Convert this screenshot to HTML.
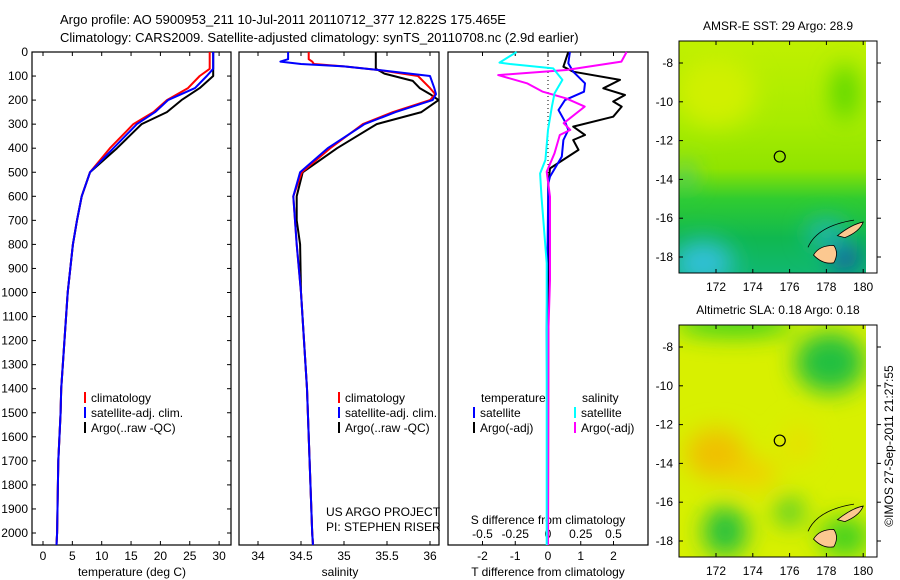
<!DOCTYPE html>
<html><head><meta charset="utf-8"><style>
body{margin:0;background:#fff;}
svg{display:block;font-family:"Liberation Sans",sans-serif;}
</style></head><body>
<svg id="fig" width="900" height="580" viewBox="0 0 900 580">
<defs>
<filter id="blur" x="-50%" y="-50%" width="200%" height="200%"><feGaussianBlur stdDeviation="12"/></filter>
<clipPath id="clipTop"><rect x="679" y="41" width="187" height="232"/></clipPath>
<clipPath id="clipBot"><rect x="679" y="325" width="187" height="232"/></clipPath>
<linearGradient id="sstGrad" x1="0" y1="0" x2="0" y2="1">
<stop offset="0" stop-color="#c0f000"/><stop offset="0.35" stop-color="#a8ec00"/><stop offset="0.55" stop-color="#90e400"/><stop offset="0.68" stop-color="#30cc30"/><stop offset="0.85" stop-color="#10b850"/><stop offset="1" stop-color="#10b870"/></linearGradient>
</defs>
<text x="60" y="24" font-size="13">Argo profile: AO 5900953_211 10-Jul-2011 20110712_377 12.822S 175.465E</text>
<text x="60" y="42" font-size="13">Climatology: CARS2009. Satellite-adjusted climatology: synTS_20110708.nc (2.9d earlier)</text>
<g id="plots"></g>
<g id="maps"></g>
<text transform="translate(893,446) rotate(-90)" font-size="12" text-anchor="middle">©IMOS 27-Sep-2011 21:27:55</text>
</svg>
<script>
// ---- profile data ----
const depthT = [0,70,100,150,200,250,300,400,500,600,700,800,1000,1400,1500,1700,2000,2050];
const tempClim = [28.4,28.4,26.7,24.7,21.1,18.8,15.4,11.4,8.0,6.6,5.8,5.1,4.2,3.1,3.0,2.6,2.4,2.3];
const tempSat  = [29.0,29.0,27.9,25.9,21.3,19.1,16.0,12.0,8.0,6.6,5.8,5.1,4.2,3.1,3.0,2.6,2.4,2.3];
const tempArgo = [29.0,29.0,29.0,26.7,23.6,21.1,16.8,12.6,8.0,6.6,5.8,5.1,4.2,3.1,3.0,2.6,2.4,2.3];
const depthS = [0,30,40,50,60,75,100,150,175,200,250,300,400,500,600,700,800,1000,1400,1700,2000,2050];
const salClim = [34.59,34.59,34.63,34.65,35.0,35.4,35.86,36.0,36.06,36.0,35.57,35.22,34.84,34.51,34.41,34.43,34.45,34.5,34.57,34.6,34.63,34.64];
const salSat  = [34.35,34.35,34.26,34.5,35.0,35.4,36.0,36.05,36.07,36.03,35.6,35.24,34.81,34.49,34.41,34.43,34.45,34.5,34.57,34.6,34.63,34.64];
const depthSA = [0,70,90,120,150,175,200,250,300,400,500,600,700,800,1000,1400,1700,2000,2050];
const salArgo = [35.37,35.37,35.47,35.8,35.88,36.0,36.1,35.9,35.38,34.92,34.52,34.45,34.45,34.49,34.5,34.57,34.6,34.63,34.64];
// difference profiles
const dTArgoDepth = [0,61,82,116,151,179,206,227,269,310,345,366,407,484,546,1156,2050];
const dTArgo = [0.62,0.47,0.77,2.2,1.69,2.35,1.99,2.25,1.99,0.77,1.13,0.77,0.93,0.06,0.01,0.01,0.0];
const dTSatDepth = [0,47,82,130,165,200,241,290,324,366,435,518,546,1156,2050];
const dTSat = [0.67,0.62,0.77,1.13,1.1,0.52,0.32,0.52,0.62,0.47,0.42,0.06,0.01,-0.04,0.0];
const dSArgoDepth = [0,40,75,96,130,165,193,227,296,324,345,421,498,602,948,1156,2050];
const dSArgo = [0.60,0.56,0.14,-0.38,-0.16,-0.04,0.14,0.28,0.12,0.17,0.09,0.05,-0.01,0.015,0.015,0.003,0.0];
const dSSatDepth = [0,44,50,68,116,172,227,324,449,505,602,878,1156,2050];
const dSSat = [-0.24,-0.37,-0.29,0.04,0.11,0.05,0.03,0.0,-0.02,-0.06,-0.05,-0.01,-0.01,-0.01];
// ticks
const depthTicks = [0,100,200,300,400,500,600,700,800,900,1000,1100,1200,1300,1400,1500,1600,1700,1800,1900,2000];
const tempTicks = [0,5,10,15,20,25,30];
const salTicks = [34,34.5,35,35.5,36];
const tdTicks = [-2,-1,0,1,2];
const sdTicks = [-0.5,-0.25,0,0.25,0.5];
const sdTickLabels = ["-0.5","-0.25","0","0.25","0.5"];
// map data
const lonTicks = [172,174,176,178,180];
const latTicks = [-8,-10,-12,-14,-16,-18];
const argoLon = 175.465, argoLat = -12.822;

const NS = "http://www.w3.org/2000/svg";
const plots = document.getElementById('plots');
const maps = document.getElementById('maps');
function mk(tag, attrs, parent){const e=document.createElementNS(NS,tag);for(const k in attrs)e.setAttribute(k,attrs[k]);(parent||plots).appendChild(e);return e;}

const TOP=52, BOT=545;
const yD = d => TOP + d*0.2405;
const panels = [
 {l:32,r:231,x:v=>43+(v-0)*5.87},
 {l:239,r:439,x:v=>258+(v-34)*86},
 {l:448,r:648,x:v=>548+v*32.75}
];
const xT = panels[0].x, xS = panels[1].x, xTD = panels[2].x, xSD = v=>548+v*131;

panels.forEach((p,i)=>{
 const r=mk('rect',{x:p.l,y:TOP,width:p.r-p.l,height:BOT-TOP,fill:'none',stroke:'#000','stroke-width':1.2});
 
 
});
depthTicks.forEach(d=>{
 const y=yD(d);
 mk('line',{x1:32,x2:36,y1:y,y2:y,stroke:'#000'});
 mk('line',{x1:227,x2:231,y1:y,y2:y,stroke:'#000'});
 const t=mk('text',{x:28,y:y+4,'font-size':12,'text-anchor':'end'});
 t.textContent=d;
 
 
});
function xticks(vals,labels,fx,y0,name){
 vals.forEach((v,i)=>{
  const x=fx(v);
  mk('line',{x1:x,x2:x,y1:BOT,y2:BOT-4,stroke:'#000'});
  mk('line',{x1:x,x2:x,y1:TOP,y2:TOP+4,stroke:'#000'});
  const t=mk('text',{x:x,y:y0,'font-size':12,'text-anchor':'middle'});
  t.textContent=labels[i];
  
  
 });
}
xticks(tempTicks,tempTicks.map(String),xT,560,'temperature-tick-label');
xticks(salTicks,salTicks.map(String),xS,560,'salinity-tick-label');
tdTicks.forEach(v=>{const x=xTD(v);mk('line',{x1:x,x2:x,y1:BOT,y2:BOT-4,stroke:'#000'});
 const t=mk('text',{x:x,y:560,'font-size':12,'text-anchor':'middle'});t.textContent=v;
 
 });
sdTicks.forEach((v,i)=>{const x=xSD(v);mk('line',{x1:x,x2:x,y1:TOP,y2:TOP+4,stroke:'#000'});
 const t=mk('text',{x:x,y:538,'font-size':12,'text-anchor':'middle'});t.textContent=sdTickLabels[i];
 
 });
function label(x,y,s,name,anchor){const t=mk('text',{x:x,y:y,'font-size':12,'text-anchor':anchor||'middle'});t.textContent=s;
 
 return t;}
label(132,576,'temperature (deg C)','x-axis-title-temperature');
label(340,576,'salinity','x-axis-title-salinity');
label(548,576,'T difference from climatology','x-axis-title-tdiff');
label(548,524,'S difference from climatology','x-axis-title-sdiff');
label(326,516,'US ARGO PROJECT','project-label','start');
label(326,531,'PI: STEPHEN RISER','pi-label','start');
mk('line',{x1:548,x2:548,y1:TOP,y2:300,stroke:'#000','stroke-dasharray':'1,3'});

function series(ds,vs,fx,color,name,w){
 const pts=ds.map((d,i)=>fx(vs[i]).toFixed(1)+','+yD(d).toFixed(1)).join(' ');
 const p=mk('polyline',{points:pts,fill:'none',stroke:color,'stroke-width':w||2,'stroke-linejoin':'round'});
 
 
}
series(depthT,tempArgo,xT,'#000','temp-argo-line');
series(depthT,tempClim,xT,'#f00','temp-climatology-line');
series(depthT,tempSat,xT,'#00f','temp-satellite-line');
series(depthSA,salArgo,xS,'#000','sal-argo-line');
series(depthS,salClim,xS,'#f00','sal-climatology-line');
series(depthS,salSat,xS,'#00f','sal-satellite-line');
series(dTArgoDepth,dTArgo,xTD,'#000','tdiff-argo-line');
series(dTSatDepth,dTSat,xTD,'#00f','tdiff-satellite-line');
series(dSArgoDepth,dSArgo,xSD,'#f0f','sdiff-argo-line');
series(dSSatDepth,dSSat,xSD,'#0ff','sdiff-satellite-line');

function legend(x,y,color,txt,name){
 mk('line',{x1:x,x2:x,y1:y-10,y2:y+1,stroke:color,'stroke-width':2});
 const t=mk('text',{x:x+6,y:y,'font-size':12});t.textContent=txt;
 
 
}
legend(85,402,'#f00','climatology','legend-climatology-temp');
legend(85,417,'#00f','satellite-adj. clim.','legend-satellite-temp');
legend(85,432,'#000','Argo(..raw -QC)','legend-argo-temp');
legend(339,402,'#f00','climatology','legend-climatology-sal');
legend(339,417,'#00f','satellite-adj. clim.','legend-satellite-sal');
legend(339,432,'#000','Argo(..raw -QC)','legend-argo-sal');
label(481,402,'temperature','legend-header-temperature','start');
label(582,402,'salinity','legend-header-salinity','start');
legend(474,417,'#00f','satellite','legend-tdiff-satellite');
legend(474,432,'#000','Argo(-adj)','legend-tdiff-argo');
legend(575,417,'#0ff','satellite','legend-sdiff-satellite');
legend(575,432,'#f0f','Argo(-adj)','legend-sdiff-argo');

// ---- maps ----
function mapPanel(top, lat8y, titleTxt, isSST, name){
 const g=document.createElementNS(NS,'g');maps.appendChild(g);
 
 
 const lx = lon => 716 + (lon-172)*18.4;
 const ly = lat => lat8y + (-8-lat)*19.4;
 const c=document.createElementNS(NS,'g');g.appendChild(c);
 c.setAttribute('clip-path', isSST?'url(#clipTop)':'url(#clipBot)');
 if(isSST){
  mk('rect',{x:679,y:top,width:187,height:232,fill:'url(#sstGrad)'},c);
  const bl=mk('g',{filter:'url(#blur)'},c);
  mk('ellipse',{cx:lx(172),cy:ly(-9.5),rx:40,ry:35,fill:'#d0f000'},bl);
  mk('ellipse',{cx:lx(171.3),cy:ly(-18.3),rx:30,ry:22,fill:'#30c0d8'},bl);
  mk('ellipse',{cx:lx(170.3),cy:ly(-13.8),rx:8,ry:12,fill:'#30c0a0'},bl);
  mk('ellipse',{cx:lx(179),cy:ly(-18),rx:14,ry:12,fill:'#1030c0'},bl);
  mk('ellipse',{cx:lx(178),cy:ly(-16.8),rx:20,ry:14,fill:'#20b8b0'},bl);
  mk('ellipse',{cx:lx(179),cy:ly(-9.5),rx:12,ry:28,fill:'#50d400'},bl);
 } else {
  mk('rect',{x:679,y:top,width:187,height:232,fill:'#d8f000'},c);
  const bl=mk('g',{filter:'url(#blur)'},c);
  mk('ellipse',{cx:lx(172),cy:ly(-13.5),rx:30,ry:25,fill:'#f0c000'},bl);
  mk('ellipse',{cx:lx(174),cy:ly(-14.5),rx:25,ry:15,fill:'#f0d000'},bl);
  mk('ellipse',{cx:lx(178.2),cy:ly(-8.8),rx:35,ry:30,fill:'#20c040'},bl);
  mk('ellipse',{cx:lx(172.5),cy:ly(-17.5),rx:22,ry:25,fill:'#20c040'},bl);
  mk('ellipse',{cx:lx(176),cy:ly(-16.5),rx:14,ry:14,fill:'#40c830'},bl);
  mk('ellipse',{cx:lx(179),cy:ly(-17.8),rx:25,ry:20,fill:'#40d020'},bl);
  mk('ellipse',{cx:lx(173),cy:ly(-6.8),rx:60,ry:12,fill:'#30d020'},bl);
  mk('ellipse',{cx:lx(176.5),cy:ly(-13),rx:15,ry:20,fill:'#e8e000'},bl);
 }
 mk('path',{d:`M${lx(177.3)},${ly(-17.9)} Q${lx(177.6)},${ly(-17.4)} ${lx(178.4)},${ly(-17.4)} Q${lx(178.7)},${ly(-17.8)} ${lx(178.4)},${ly(-18.3)} Q${lx(177.8)},${ly(-18.4)} ${lx(177.3)},${ly(-17.9)}Z`,fill:'#fcc890',stroke:'#000','stroke-width':0.8},c);
 mk('path',{d:`M${lx(178.6)},${ly(-16.9)} Q${lx(179.4)},${ly(-16.3)} ${lx(180)},${ly(-16.2)} Q${lx(179.8)},${ly(-16.7)} ${lx(179)},${ly(-17.0)}Z`,fill:'#fcc890',stroke:'#000','stroke-width':0.8},c);
 mk('path',{d:`M${lx(177)},${ly(-17.5)} Q${lx(177.5)},${ly(-16.4)} ${lx(179.5)},${ly(-16.1)}`,fill:'none',stroke:'#000','stroke-width':0.8},c);
 mk('rect',{x:866,y:top,width:11,height:232,fill:'#fff'},g);
 mk('rect',{x:679,y:top,width:198,height:232,fill:'none',stroke:'#000','stroke-width':1},g);
 const circ=mk('circle',{cx:lx(argoLon),cy:ly(argoLat),r:5.5,fill:'none',stroke:'#000','stroke-width':1.2},g);
 
 
 lonTicks.forEach(v=>{const x=lx(v);mk('line',{x1:x,x2:x,y1:top+232,y2:top+228,stroke:'#000'},g);mk('line',{x1:x,x2:x,y1:top,y2:top+4,stroke:'#000'},g);
  const t=mk('text',{x:x,y:top+250,'font-size':12,'text-anchor':'middle'},g);t.textContent=v;
  
  });
 latTicks.forEach(v=>{const y=ly(v);mk('line',{x1:679,x2:683,y1:y,y2:y,stroke:'#000'},g);mk('line',{x1:877,x2:881,y1:y,y2:y,stroke:'#000'},g);
  const t=mk('text',{x:673,y:y+4,'font-size':12,'text-anchor':'end'},g);t.textContent=v;
  
  });
 const tt=mk('text',{x:778,y:top-11,'font-size':12,'text-anchor':'middle'},g);tt.textContent=titleTxt;
 
 
}
mapPanel(41,63,'AMSR-E SST: 29 Argo: 28.9',true,'sst-map');
mapPanel(325,347,'Altimetric SLA: 0.18 Argo: 0.18',false,'sla-map');
</script>
</body></html>
